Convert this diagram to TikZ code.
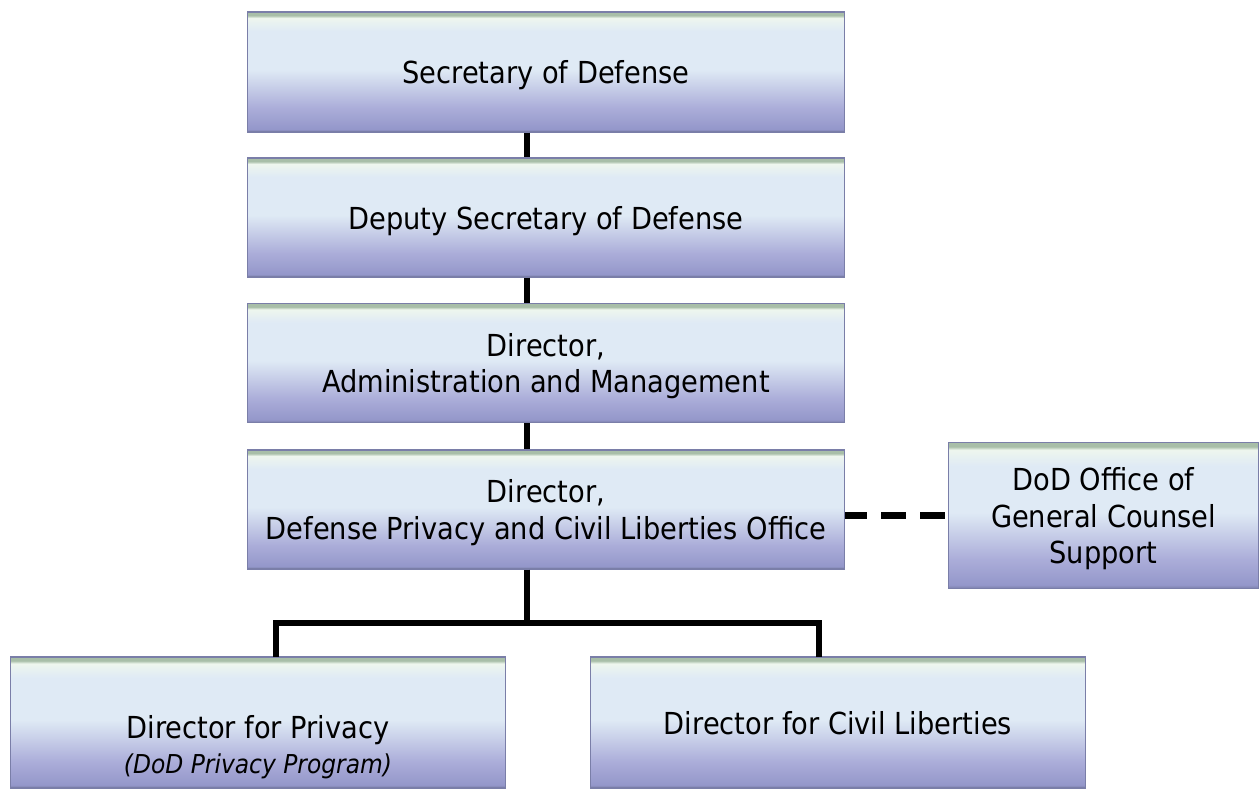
\documentclass[tikz,border=0pt]{standalone}
\usepackage{fontspec}
\setmainfont{DejaVu Sans Condensed}

\definecolor{paleblue}{HTML}{DFEAF5}
\definecolor{lavmid}{HTML}{ABADD9}
\definecolor{lavlow}{HTML}{9497CA}
\definecolor{rimlow}{HTML}{7A7EA8}
\definecolor{rimtop}{HTML}{A8BEA8}
\definecolor{glint}{HTML}{EEF6EE}

% bevelled fill of the org boxes (25bp..75bp is the box itself)
\pgfdeclareverticalshading{orgfill}{100bp}{%
  color(0bp)=(rimlow); color(25bp)=(rimlow); color(26.2bp)=(lavlow);
  color(35bp)=(lavmid); color(51bp)=(paleblue); color(67bp)=(paleblue);
  color(72.5bp)=(glint); color(73.6bp)=(rimtop); color(100bp)=(rimtop)}

\begin{document}
\begin{tikzpicture}[x=0.02cm, y=-0.02cm, font=\fontsize{17.25}{20.8}\selectfont]
  \tikzset{
    orgbox/.style={shading=orgfill, draw=rimlow, line width=0.6pt, align=center,
      inner sep=0pt, text depth=0pt},
    chainbox/.style={orgbox, minimum width=11.96cm, minimum height=2.38cm},
    unitbox/.style={orgbox, minimum width=9.9cm, minimum height=2.62cm},
    link/.style={line width=2.9pt, black},
  }
  \useasboundingbox (0,0) rectangle (1259,789);

  % chain of command
  \node[chainbox, minimum height=2.4cm] (secdef) at (546,72) {Secretary of Defense};
  \node[chainbox] (depsec) at (546,217.5) {Deputy Secretary of Defense};
  \node[chainbox] (dam) at (546,363) {Director,\\Administration and Management};
  \node[chainbox] (dpclo) at (546,509.5) {Director,\\Defense Privacy and Civil Liberties Office};

  % counsel on the side
  \node[orgbox, minimum width=6.22cm, minimum height=2.92cm] (ogc) at (1103.5,515.5)
    {DoD Office of\\General Counsel\\Support};

  % the two directorates
  \node[unitbox] (privacy) at (258,722.5) {};
  \node[align=center, text depth=0pt] (privacytext) at ([yshift=-0.44cm]privacy.center)
    {Director for Privacy\\[-1pt]{\fontsize{14.8}{18}\selectfont\itshape (DoD Privacy Program)}};
  \node[unitbox] (civlib) at (838,722.5) {Director for Civil Liberties};

  % connectors
  \coordinate (spine) at (527,0);
  \coordinate (bus) at (527,623);
  \coordinate (privdrop) at (276,657);
  \coordinate (civdrop) at (819,657);
  \draw[link] (secdef.south -| spine) -- (depsec.north -| spine);
  \draw[link] (depsec.south -| spine) -- (dam.north -| spine);
  \draw[link] (dam.south -| spine) -- (dpclo.north -| spine);
  \draw[link] (dpclo.south -| spine) -- (bus);
  \draw[link] (privdrop) |- (bus) -| (civdrop);
  \draw[link, line width=3.8pt, dash pattern=on 14.2pt off 8pt, dash phase=1.7pt]
    (dpclo.east |- ogc) -- (ogc.west);

\end{tikzpicture}
\end{document}
